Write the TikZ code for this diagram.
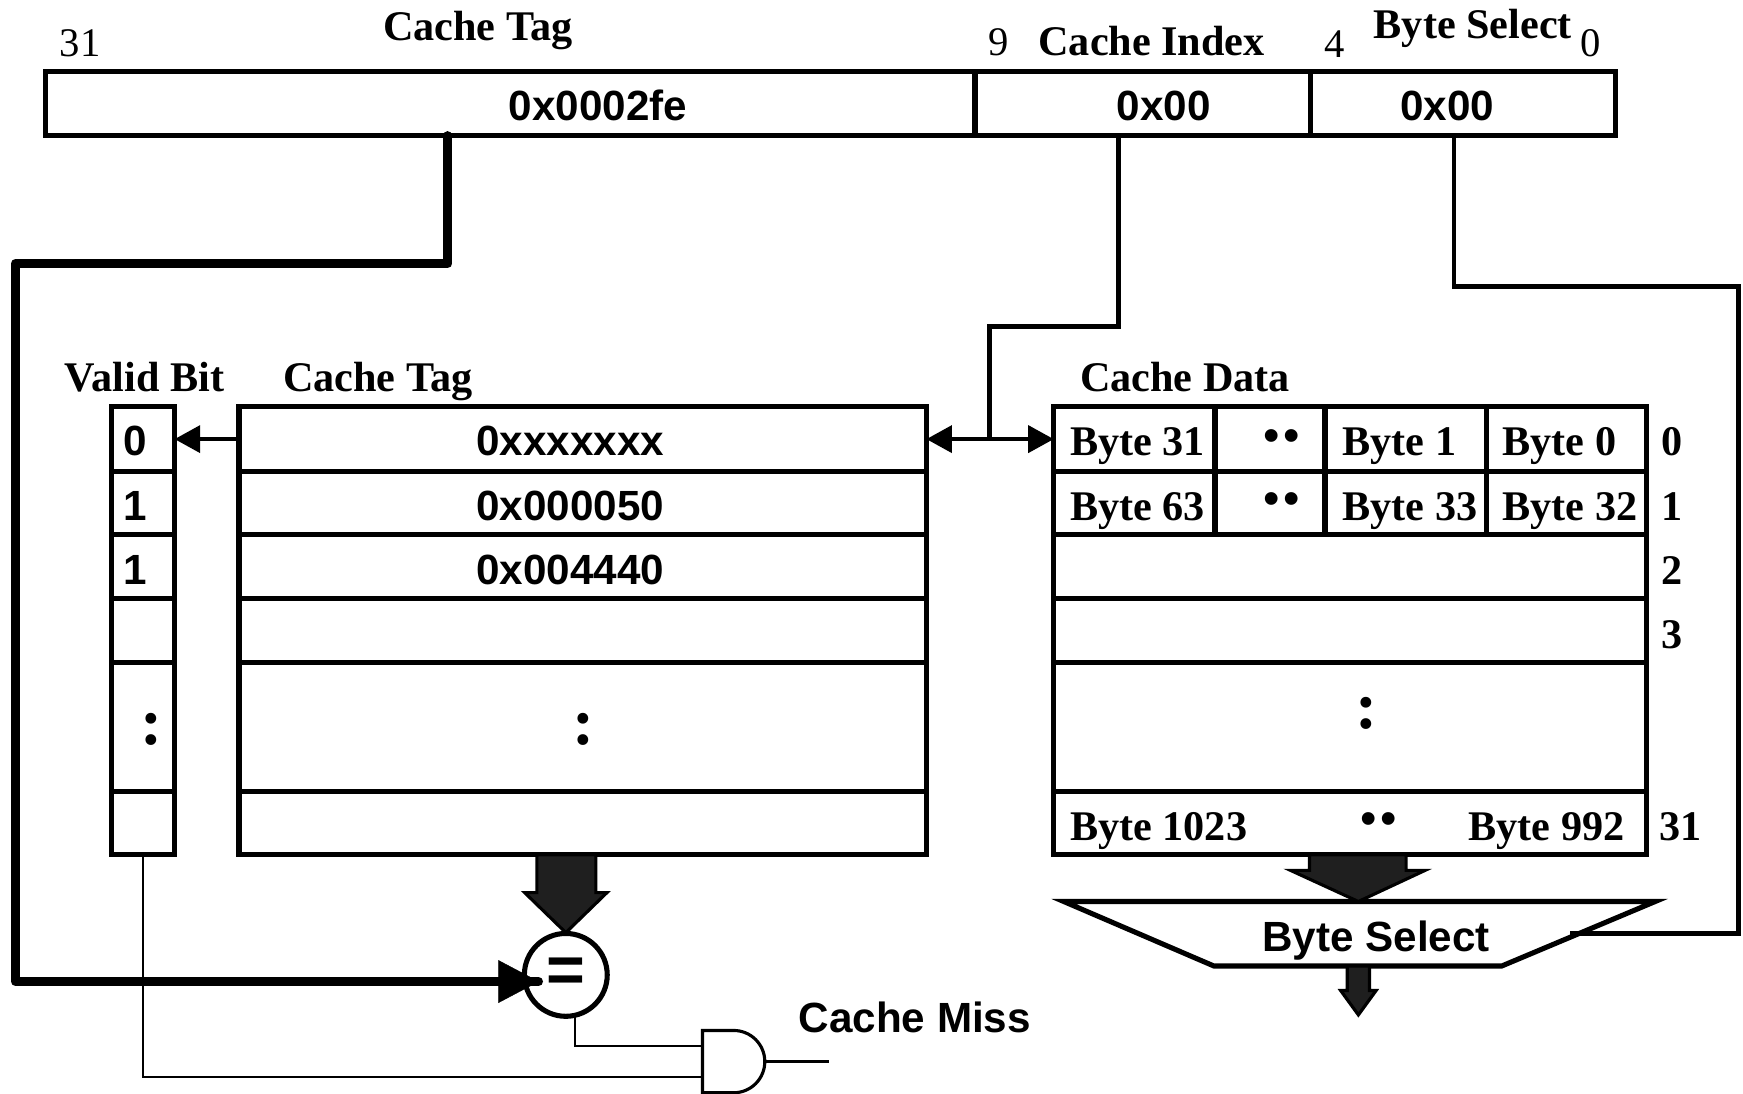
\documentclass[tikz,border=0pt]{standalone}
\usepackage{fontspec}
\setmainfont{Liberation Serif}
\setsansfont{Liberation Sans}
\usetikzlibrary{arrows.meta,calc}
\begin{document}
\begin{tikzpicture}[x=0.01cm,y=-0.01cm,
  cell/.style={draw, line width=1.3pt, inner sep=0pt, outer sep=0pt, anchor=north west},
  lbl/.style={font=\fontsize{10.8}{13}\selectfont\bfseries, inner sep=0pt, anchor=base},
  hex/.style={font=\fontsize{10.8}{13}\selectfont\sffamily\bfseries, inner sep=0pt, anchor=base},
  num/.style={font=\fontsize{10.4}{12}\selectfont, inner sep=0pt, anchor=base},
  bul/.style={font=\fontsize{12}{14}\selectfont\sffamily, inner sep=0pt},
  colon/.style={font=\fontsize{17}{19}\selectfont\bfseries, inner sep=0pt},
  wire/.style={line width=1.2pt},
  thinwire/.style={line width=0.6pt},
  tagwire/.style={line width=2.3pt, line cap=round, line join=round},
  blockarrow/.style={fill=black!88, draw=black, line width=0.8pt, line join=miter},
]
\useasboundingbox (0,0) rectangle (1568,984);

% ---------- address register ----------
\node[cell, minimum width=8.36cm, minimum height=0.58cm] (tagf) at (41,64) {};
\node[cell, minimum width=3.02cm, minimum height=0.58cm] (idxf) at (877,64) {};
\node[cell, minimum width=2.74cm, minimum height=0.58cm] (bsf) at (1179,64) {};
\node[hex] (tagv) at (538,108) {0x0002fe};
\node[hex] (idxv) at (1047,108) {0x00};
\node[hex] (bsv) at (1302,108) {0x00};

\node[lbl] (ttag) at (430,36) {Cache Tag};
\node[lbl] (tidx) at (1036,49.5) {Cache Index};
\node[lbl] (tbs) at (1325,34.5) {Byte Select};
\node[num] (n31) at (72,51) {31};
\node[num] (n9) at (898,50) {9};
\node[num] (n4) at (1201,51.5) {4};
\node[num] (n0) at (1431,51) {0};

% ---------- arrays ----------
\node[lbl] (lvalid) at (130,352) {Valid Bit};
\node[lbl] (ltag) at (340,352) {Cache Tag};
\node[lbl] (ldata) at (1066,352) {Cache Data};

\foreach \t/\h/\n in {366/0.58cm/0, 424/0.57cm/1, 481/0.57cm/2, 538/0.58cm/3, 596/1.16cm/4, 712/0.57cm/5}{
  \node[cell, minimum width=0.57cm, minimum height=\h] (v\n) at (100,\t) {};
  \node[cell, minimum width=6.18cm, minimum height=\h] (t\n) at (215,\t) {};
}
\foreach \t/\h/\n in {481/0.57cm/2, 538/0.58cm/3, 596/1.16cm/4, 712/0.57cm/5}{
  \node[cell, minimum width=5.33cm, minimum height=\h] (d\n) at (948,\t) {};
}
\foreach \t/\h/\n in {366/0.58cm/0, 424/0.57cm/1}{
  \node[cell, minimum width=1.45cm, minimum height=\h] (d\n a) at (948,\t) {};
  \node[cell, minimum width=0.99cm, minimum height=\h] (d\n b) at (1093,\t) {};
  \node[cell, minimum width=1.45cm, minimum height=\h] (d\n c) at (1192,\t) {};
  \node[cell, minimum width=1.44cm, minimum height=\h] (d\n d) at (1337,\t) {};
}

% valid bits
\node[hex] (vb0) at (122,410) {0};
\node[hex] (vb1) at (122,468) {1};
\node[hex] (vb2) at (122,526) {1};
\node[colon] (vbc) at (136,656) {:};

% tags
\node[hex] (tv0) at (513,410) {0xxxxxxx};
\node[hex] (tv1) at (513,468) {0x000050};
\node[hex] (tv2) at (513,526) {0x004440};
\node[colon] (tvc) at (525,656) {:};

% data
\node[lbl, anchor=base west] (b31) at (962,410) {Byte 31};
\node[bul] (bu0) at (1153,396) {•\hspace{0.9pt}•};
\node[lbl, anchor=base west] (b1) at (1207,410) {Byte 1};
\node[lbl, anchor=base west] (b0) at (1351,410) {Byte 0};
\node[lbl, anchor=base west] (b63) at (962,468) {Byte 63};
\node[bul] (bu1) at (1153,453) {•\hspace{0.9pt}•};
\node[lbl, anchor=base west] (b33) at (1207,468) {Byte 33};
\node[lbl, anchor=base west] (b32) at (1351,468) {Byte 32};
\node[colon] (dvc) at (1229,642) {:};
\node[lbl, anchor=base west] (b1023) at (962,756) {Byte 1023};
\node[bul] (bu5) at (1240,741) {•\hspace{0.9pt}•};
\node[lbl, anchor=base east] (b992) at (1462,756) {Byte 992};

\node[lbl] (r0) at (1504,410) {0};
\node[lbl] (r1) at (1504,468) {1};
\node[lbl] (r2) at (1504,526) {2};
\node[lbl] (r3) at (1504,583) {3};
\node[lbl] (r31) at (1512,756) {31};

% ---------- comparator, gate, mux ----------
\node[draw, circle, line width=1.3pt, minimum size=0.745cm, inner sep=0pt,
      font=\fontsize{17}{17}\selectfont\sffamily\bfseries] (eq) at (509,877) {=};

\coordinate (andin1) at (632,941);
\coordinate (andin2) at (632,969);
\coordinate (andout) at (688,955);
\coordinate (missout) at (746,955);
\draw[line width=0.8pt] (632,927) -- (660,927) arc[start angle=90,end angle=-90,radius=0.28cm] -- (632,983) -- cycle;
\node[hex] (miss) at (823,929) {Cache Miss};

\draw[line width=1.3pt, line join=miter] (957,811) coordinate (mtl) -- (1489,811) coordinate (mtr)
   -- (1351,869) coordinate (mbr) -- (1092,869) coordinate (mbl) -- cycle;
\node[hex] (bsel) at (1238,856) {Byte Select};

% ---------- block arrows ----------
\draw[blockarrow] (483,769) -- (483,803) -- (472,803) -- (509,839) -- (546,803) -- (536,803) -- (536,769) -- cycle;
\draw[blockarrow] (1178,769) -- (1178,783) -- (1161,783) -- (1222,811) -- (1282,783) -- (1265,783) -- (1265,769) -- cycle;
\draw[blockarrow] (1212,869) -- (1212,891) -- (1206,891) -- (1222,913) -- (1238,891) -- (1232,891) -- (1232,869) -- cycle;

% ---------- wires ----------
\coordinate (tagtap) at (403,122);
\coordinate (eqin) at ($(eq.west)+(15,6)$);
\draw[tagwire] (tagtap) -- (403,237) -- (14,237) -- (14,883)
   -- (eqin);
\draw[line width=0.1pt, fill=black] (eqin) -- ++(-36,-19) -- ++(0,38) -- cycle;

\coordinate (idxtap) at (1006,122);
\draw[wire] (idxtap) -- (1006,294) -- (890,294) -- (890,395);
\draw[wire, {Triangle[length=0.23cm,width=0.24cm]}-{Triangle[length=0.23cm,width=0.24cm]}] (t0.east) -- (d0a.west);
\draw[wire, -{Triangle[length=0.23cm,width=0.24cm]}] (t0.west) -- (v0.east);

\coordinate (bstap) at (1308,122);
\coordinate (bsin) at (1412,840);
\draw[wire] (bstap) -- (1308,258) -- (1564,258) -- (1564,840) -- (bsin);

\draw[thinwire] (517,914) |- (andin1);
\draw[thinwire] (v5.south) |- (andin2);
\draw[thinwire] (andout) -- (missout);
\end{tikzpicture}
\end{document}
